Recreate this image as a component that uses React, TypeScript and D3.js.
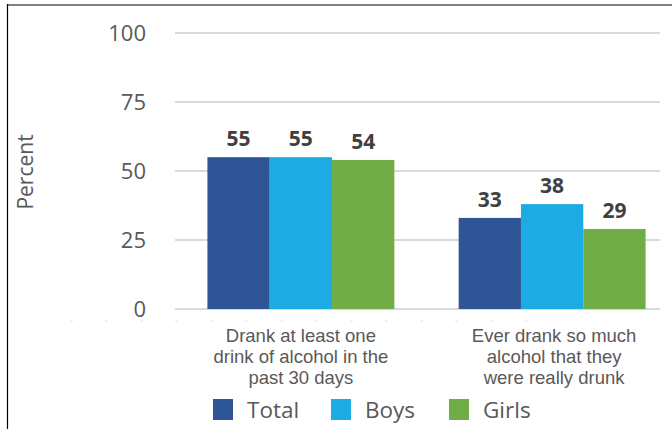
import React from "react";
import * as d3 from "d3";

const categories: string[][] = [
  ["Drank at least one", "drink of alcohol in the", "past 30 days"],
  ["Ever drank so much", "alcohol that they", "were really drunk"],
];
const categoryKeys = ["past30", "reallyDrunk"];
const seriesNames = ["Total", "Boys", "Girls"];
const totalValues = [55, 33];
const boysValues = [55, 38];
const girlsValues = [54, 29];
const yTicks = [0, 25, 50, 75, 100];
const yLabel = "Percent";

const colors: Record<string, string> = {
  Total: "#2F5597",
  Boys: "#1CACE3",
  Girls: "#70AD47",
};

const W = 672;
const H = 429;

export default function App() {
  const seriesValues: Record<string, number[]> = {
    Total: totalValues,
    Boys: boysValues,
    Girls: girlsValues,
  };

  const y = d3.scaleLinear().domain([0, 100]).range([309, 33]);
  const x0 = d3
    .scaleBand<string>()
    .domain(categoryKeys)
    .range([175, 678])
    .paddingInner(0.256)
    .paddingOuter(0.129);
  const x1 = d3
    .scaleBand<string>()
    .domain(seriesNames)
    .range([0, x0.bandwidth()])
    .padding(0);
  const legendX = d3.scalePoint<string>().domain(seriesNames).range([213, 449]);

  const gridX1 = 175;
  const gridX2 = 660;

  return (
    <svg
      width={W}
      height={H}
      style={{ position: "fixed", left: 0, top: 0, background: "#fff" }}
    >
      <rect x={0} y={0} width={W} height={H} fill="#fff" />
      {/* frame */}
      <line x1={7} x2={W} y1={5} y2={5} stroke="#808080" strokeWidth={2} />
      <line x1={7.5} x2={7.5} y1={4} y2={H} stroke="#000" strokeWidth={1.2} />

      {/* gridlines */}
      {yTicks.map((t) => (
        <line
          key={"g" + t}
          x1={gridX1}
          x2={gridX2}
          y1={y(t)}
          y2={y(t)}
          stroke="#D9D9D9"
          strokeWidth={2}
        />
      ))}
      {/* tick labels */}
      {yTicks.map((t) => (
        <text
          key={"t" + t}
          x={146}
          y={y(t)}
          dy="0.36em"
          textAnchor="end"
          fontFamily="'Open Sans', sans-serif"
          fontSize={22}
          fill="#595959"
        >
          {t}
        </text>
      ))}
      {/* y label */}
      <text
        transform={`translate(33,172) rotate(-90)`}
        textAnchor="middle"
        fontFamily="'Open Sans', sans-serif"
        fontSize={21}
        fill="#595959"
      >
        {yLabel}
      </text>

      {/* faint artifact ticks */}
      <line
        x1={70}
        x2={550}
        y1={321}
        y2={321}
        stroke="#E4E4E4"
        strokeWidth={1}
        strokeDasharray="3 32"
      />

      {/* bars */}
      {categoryKeys.map((c, ci) => (
        <g key={c} transform={`translate(${x0(c)},0)`}>
          {seriesNames.map((s) => {
            const v = seriesValues[s][ci];
            return (
              <g key={s}>
                <rect
                  x={x1(s)}
                  y={y(v)}
                  width={x1.bandwidth()}
                  height={y(0) - y(v)}
                  fill={colors[s]}
                />
                <text
                  x={(x1(s) as number) + x1.bandwidth() / 2}
                  y={y(v) - 11}
                  textAnchor="middle"
                  fontFamily="'Open Sans', sans-serif"
                  fontWeight={700}
                  fontSize={21}
                  fill="#404040"
                >
                  {v}
                </text>
              </g>
            );
          })}
        </g>
      ))}

      {/* category labels */}
      {categoryKeys.map((c, ci) => (
        <text
          key={"c" + c}
          textAnchor="middle"
          fontFamily="'Liberation Sans', Arial, sans-serif"
          fontSize={18.5}
          fill="#595959"
        >
          {categories[ci].map((line, li) => (
            <tspan
              key={li}
              x={(x0(c) as number) + x0.bandwidth() / 2 + (ci === 1 ? 2 : 0)}
              y={342 + li * 21}
            >
              {line}
            </tspan>
          ))}
        </text>
      ))}

      {/* legend */}
      {seriesNames.map((s) => (
        <g key={"l" + s} transform={`translate(${legendX(s)},399)`}>
          <rect x={0} y={0} width={20} height={21} fill={colors[s]} />
          <text
            x={34}
            y={10.5}
            dy="0.36em"
            fontFamily="'Open Sans', sans-serif"
            fontSize={22.5}
            fill="#595959"
          >
            {s}
          </text>
        </g>
      ))}
    </svg>
  );
}
